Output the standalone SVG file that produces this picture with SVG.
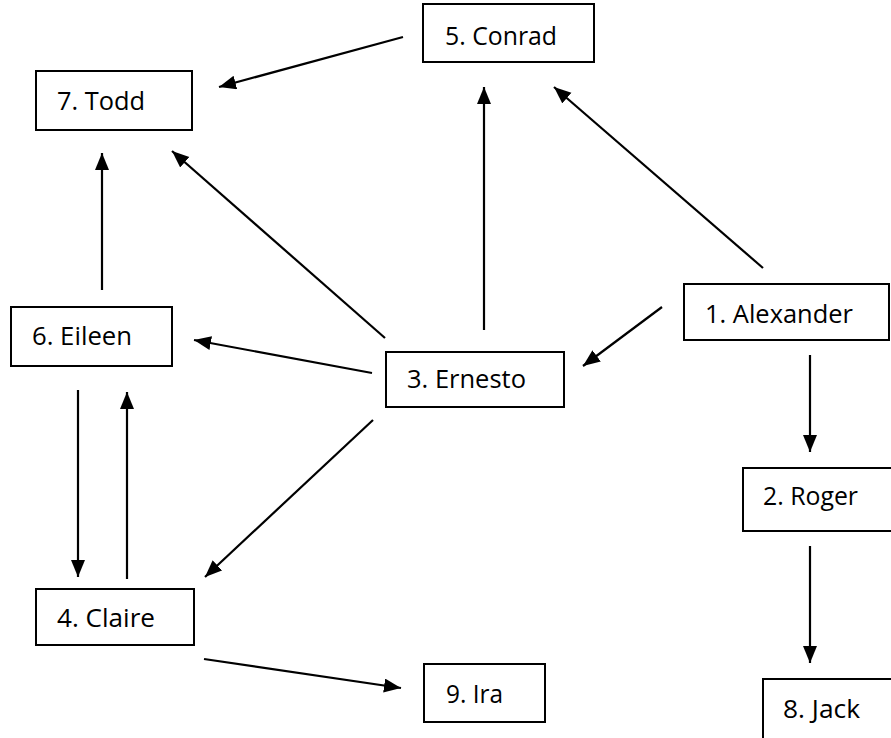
<svg xmlns="http://www.w3.org/2000/svg" width="891" height="738" viewBox="0 0 891 738">
<defs>
<marker id="ah" markerUnits="userSpaceOnUse" markerWidth="18" markerHeight="16" refX="17" refY="7" orient="auto">
<path d="M0,0 L17,7 L0,14 z" fill="#000"/>
</marker>
<style>
.box{fill:#fff;stroke:#000;stroke-width:2}
.lbl{font-family:"Open Sans","Liberation Sans",sans-serif;font-size:25px;fill:#000}
.c line{stroke:#000;stroke-width:2.2;marker-end:url(#ah)}
</style>
</defs>
<rect width="891" height="738" fill="#fff"/>
<g class="c" id="connectors">
<line x1="403" y1="37" x2="219" y2="87"/>
<line x1="484" y1="330" x2="484" y2="87"/>
<line x1="763" y1="268" x2="554" y2="87"/>
<line x1="662" y1="307" x2="583" y2="366"/>
<line x1="385" y1="338" x2="172" y2="151"/>
<line x1="102" y1="290" x2="102" y2="153"/>
<line x1="372" y1="373" x2="194" y2="340"/>
<line x1="78" y1="390" x2="78" y2="577"/>
<line x1="127" y1="579" x2="127" y2="392"/>
<line x1="373" y1="420" x2="205" y2="577"/>
<line x1="204" y1="659" x2="401" y2="688"/>
<line x1="810" y1="355" x2="810" y2="452"/>
<line x1="810" y1="546" x2="810" y2="663"/>
</g>
<g id="n5"><rect class="box" x="423" y="4" width="171" height="58"/><text class="lbl" x="445" y="45" textLength="112" lengthAdjust="spacingAndGlyphs">5. Conrad</text></g>
<g id="n7"><rect class="box" x="36" y="71" width="156" height="59"/><text class="lbl" x="57" y="110" textLength="88" lengthAdjust="spacingAndGlyphs">7. Todd</text></g>
<g id="n1"><rect class="box" x="684" y="284" width="205" height="56"/><text class="lbl" x="705" y="323" textLength="148" lengthAdjust="spacingAndGlyphs">1. Alexander</text></g>
<g id="n6"><rect class="box" x="11" y="307" width="161" height="59"/><text class="lbl" x="32" y="345" textLength="100" lengthAdjust="spacingAndGlyphs">6. Eileen</text></g>
<g id="n3"><rect class="box" x="386" y="352" width="178" height="55"/><text class="lbl" x="407" y="388" textLength="119" lengthAdjust="spacingAndGlyphs">3. Ernesto</text></g>
<g id="n2"><rect class="box" x="743" y="468" width="170" height="63"/><text class="lbl" x="763" y="505" textLength="95" lengthAdjust="spacingAndGlyphs">2. Roger</text></g>
<g id="n4"><rect class="box" x="36" y="589" width="158" height="56"/><text class="lbl" x="57" y="627" textLength="98" lengthAdjust="spacingAndGlyphs">4. Claire</text></g>
<g id="n9"><rect class="box" x="424" y="664" width="121" height="58"/><text class="lbl" x="446" y="703" textLength="57" lengthAdjust="spacingAndGlyphs">9. Ira</text></g>
<g id="n8"><rect class="box" x="763" y="679" width="150" height="80"/><text class="lbl" x="783" y="718" textLength="77" lengthAdjust="spacingAndGlyphs">8. Jack</text></g>
</svg>
